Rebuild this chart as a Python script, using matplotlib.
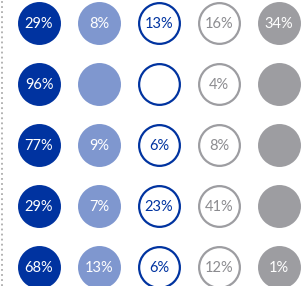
import matplotlib.pyplot as plt
from matplotlib.lines import Line2D

plt.rcParams['font.family'] = ['Lato', 'DejaVu Sans']

rows = ['R1', 'R2', 'R3', 'R4', 'R5']
serie_a = [29, 96, 77, 29, 68]
serie_b = [8, None, 9, 7, 13]
serie_c = [13, None, 6, 23, 6]
serie_d = [16, 4, 8, 41, 12]
serie_e = [34, None, None, None, 1]

azul = '#0033A0'
azul_claro = '#7F97CF'
cinza = '#9D9DA1'

# (valores, cor de preenchimento, cor da borda, cor do texto)
colunas = [
    (serie_a, azul, azul, 'white'),
    (serie_b, azul_claro, azul_claro, 'white'),
    (serie_c, 'white', azul, azul),
    (serie_d, 'white', cinza, '#8C8C90'),
    (serie_e, cinza, cinza, 'white'),
]

fig = plt.figure(figsize=(3.06, 2.86), dpi=100)
ax = fig.add_axes([0, 0, 1, 1])

for i, (vals, face, edge, tcor) in enumerate(colunas):
    ys = list(range(len(rows)))
    xs = [i] * len(rows)
    ax.scatter(xs, ys, s=860, c=face, edgecolors=edge, linewidths=1.6, zorder=2)
    for j, v in enumerate(vals):
        if v is not None:
            ax.text(i, j + 0.02, '{}%'.format(v), ha='center', va='center',
                    fontsize=10.5, color=tcor, zorder=3)

ax.set_xlim(-0.65, 4.45)
ax.set_ylim(4.31, -0.377)
ax.axis('off')

fig.add_artist(Line2D([1.5 / 306, 1.5 / 306], [0, 1], transform=fig.transFigure,
                      color='#ADADAD', linestyle=(0, (1, 1.8)), linewidth=1.3))

plt.savefig('out.png', dpi=100)
